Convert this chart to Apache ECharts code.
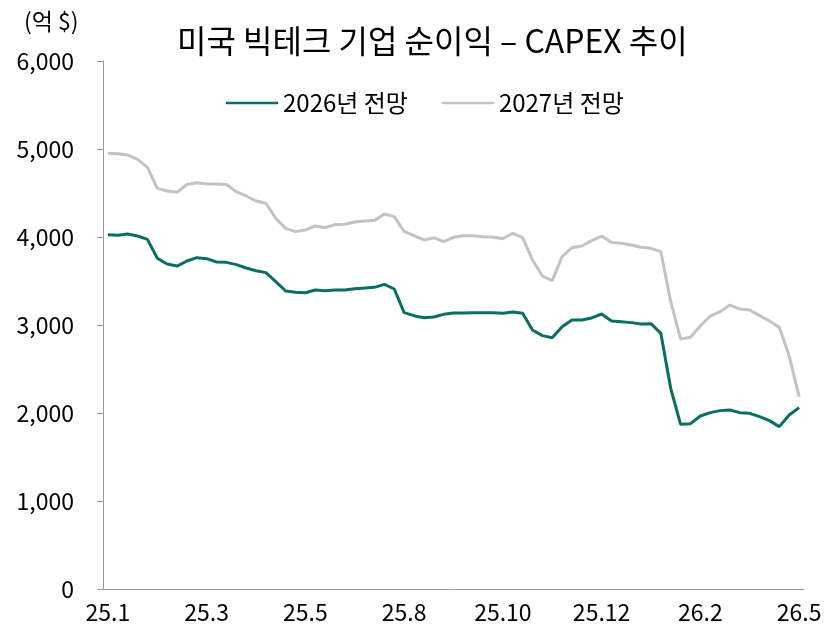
<!DOCTYPE html>
<html>
  <head>
    <meta charset="utf-8">
    <title>미국 빅테크 기업 순이익 - CAPEX 추이</title>
    <script src="https://cdn.jsdelivr.net/npm/echarts@6/dist/echarts.min.js"></script>
    <style>
      html, body { margin: 0; padding: 0; background: #fff; }
      #main { width: 826px; height: 629px; }
    </style>
  </head>
  <body>
    <div id="main"></div>
    <script>
        // 주간 데이터 (71개 시점), 축 라벨은 10개마다 하나
        const tickLabels = ['25.1', '25.3', '25.5', '25.8', '25.10', '25.12', '26.2', '26.5'];
        const est2026 = [
            4026, 4019, 4034, 4011, 3973, 3758, 3693, 3670, 3727, 3765,
            3754, 3716, 3712, 3686, 3648, 3617, 3595, 3492, 3386, 3371,
            3367, 3398, 3390, 3398, 3398, 3413, 3420, 3428, 3462, 3409,
            3140, 3106, 3083, 3091, 3121, 3136, 3136, 3140, 3140, 3140,
            3133, 3148, 3133, 2943, 2879, 2856, 2981, 3057, 3057, 3080,
            3125, 3045, 3038, 3027, 3011, 3015, 2905, 2280, 1871, 1879,
            1966, 2004, 2027, 2034, 2004, 1996, 1958, 1913, 1845, 1977,
            2061
        ];
        const est2027 = [
            4951, 4947, 4932, 4883, 4792, 4553, 4523, 4508, 4598, 4617,
            4602, 4602, 4598, 4515, 4466, 4409, 4383, 4212, 4098, 4061,
            4080, 4125, 4106, 4140, 4144, 4170, 4182, 4189, 4261, 4231,
            4064, 4015, 3966, 3992, 3947, 3996, 4015, 4015, 4004, 4000,
            3981, 4042, 3992, 3739, 3557, 3504, 3777, 3879, 3898, 3958,
            4011, 3939, 3928, 3909, 3883, 3871, 3833, 3265, 2841, 2860,
            2989, 3102, 3151, 3227, 3182, 3170, 3106, 3045, 2973, 2648,
            2186
        ];
        const categories = est2026.map((_, i) => String(i));

        const font = "'Noto Sans CJK KR', 'Noto Sans', sans-serif";
        const chart = echarts.init(document.getElementById('main'));
        chart.setOption({
            animation: false,
            textStyle: { fontFamily: font },
            title: [
                {
                    text: '미국 빅테크 기업 순이익 – CAPEX 추이',
                    left: 172,
                    top: 20,
                    textStyle: { fontSize: 32, fontWeight: 'normal', color: '#000', fontFamily: font }
                },
                {
                    text: '(억 $)',
                    left: 19,
                    top: 5,
                    textStyle: { fontSize: 23, fontWeight: 'normal', color: '#000', fontFamily: font }
                }
            ],
            legend: {
                top: 86,
                left: 221,
                icon: 'rect',
                itemWidth: 52,
                itemHeight: 2.5,
                itemGap: 34,
                textStyle: { fontSize: 24, color: '#000', fontFamily: font, padding: [0, 0, 0, 0] },
                data: ['2026년 전망', '2027년 전망']
            },
            grid: { left: 103, right: 22, top: 61, bottom: 40, containLabel: false, outerBoundsMode: 'none' },
            xAxis: {
                type: 'category',
                data: categories,
                boundaryGap: true,
                axisLine: { lineStyle: { color: '#999', width: 1 } },
                axisTick: { interval: 0, length: 5, lineStyle: { color: '#999' } },
                axisLabel: {
                    interval: 9,
                    margin: 12,
                    fontSize: 23,
                    color: '#000',
                    fontFamily: font,
                    formatter: (v, i) => tickLabels[i / 10] || ''
                }
            },
            yAxis: {
                type: 'value',
                min: 0,
                max: 6000,
                interval: 1000,
                splitLine: { show: false },
                axisLine: { show: true, lineStyle: { color: '#999', width: 1 } },
                axisTick: { show: true, length: 6, lineStyle: { color: '#999' } },
                axisLabel: {
                    margin: 29,
                    fontSize: 23,
                    color: '#000',
                    fontFamily: font,
                    formatter: v => v.toLocaleString('en-US')
                }
            },
            series: [
                {
                    name: '2026년 전망',
                    type: 'line',
                    data: est2026,
                    symbol: 'none',
                    color: '#0b6e62',
                    lineStyle: { width: 3, color: '#0b6e62' }
                },
                {
                    name: '2027년 전망',
                    type: 'line',
                    data: est2027,
                    symbol: 'none',
                    color: '#c3c3c3',
                    lineStyle: { width: 3, color: '#c3c3c3' }
                }
            ]
        });
    </script>
  </body>
</html>
